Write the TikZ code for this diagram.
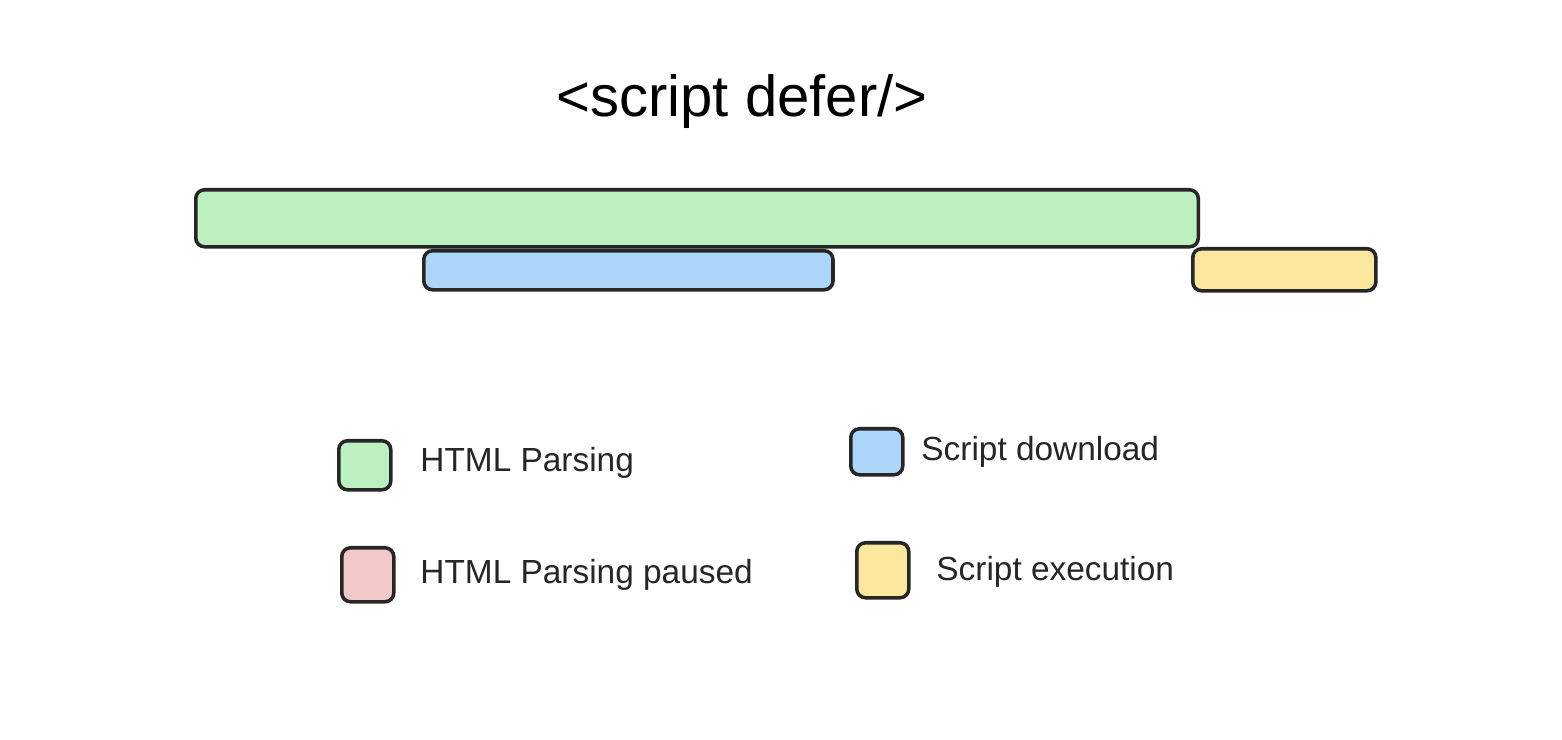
\documentclass[tikz,border=0pt]{standalone}
\usepackage{fontspec}
\setmainfont{Liberation Sans}
\definecolor{parsegreen}{HTML}{BDF0C0}
\definecolor{loadblue}{HTML}{ADD5FA}
\definecolor{execyellow}{HTML}{FBE79E}
\definecolor{pausepink}{HTML}{F3C8C8}
\begin{document}
\begin{tikzpicture}[x=0.01cm,y=-0.01cm]
\tikzstyle{bar}=[draw=black!85,line width=1pt,rounded corners=2.5pt,inner sep=0pt,anchor=north west]
\tikzstyle{key}=[bar,minimum width=0.52cm,minimum height=0.49cm]
\tikzstyle{lbl}=[anchor=west,font=\fontsize{9.5}{11}\selectfont,text=black!85]
\useasboundingbox[fill=white] (0,0) rectangle (1562,740);
% title
\node[font=\fontsize{16.5}{19}\selectfont] (title) at (742,102) {<script defer/>};
% timeline
\node[bar,fill=parsegreen,minimum width=10.02cm,minimum height=0.57cm] (parse) at (194,188) {};
\node[bar,fill=loadblue,minimum width=4.09cm,minimum height=0.39cm] (download) at (422,249) {};
\node[bar,fill=execyellow,minimum width=1.83cm,minimum height=0.42cm] (exec) at (1191,247) {};
% legend
\node[key,fill=parsegreen] (kparse) at (337,439) {};
\node[lbl] (tparse) at (408,463) {HTML Parsing};
\node[key,fill=pausepink,minimum height=0.54cm] (kpause) at (340,546) {};
\node[lbl] (tpause) at (408,575) {HTML Parsing paused};
\node[key,fill=loadblue,minimum height=0.46cm] (kload) at (849,427) {};
\node[lbl] (tload) at (909,452) {Script download};
\node[key,fill=execyellow,minimum height=0.55cm] (kexec) at (855,541) {};
\node[lbl] (texec) at (924,572) {Script execution};
\end{tikzpicture}
\end{document}
